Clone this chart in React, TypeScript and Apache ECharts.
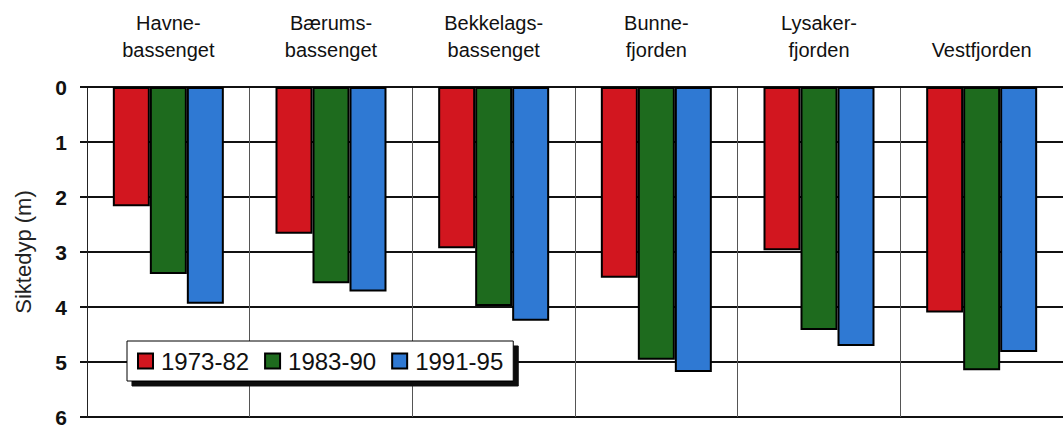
import React, { useEffect, useRef } from "react";
import * as echarts from "echarts";

const categories = [
  "Havne-\nbassenget",
  "Bærums-\nbassenget",
  "Bekkelags-\nbassenget",
  "Bunne-\nfjorden",
  "Lysaker-\nfjorden",
  "Vestfjorden",
];
const s1973_82 = [2.17, 2.67, 2.93, 3.47, 2.97, 4.1];
const s1983_90 = [3.4, 3.57, 3.98, 4.96, 4.42, 5.15];
const s1991_95 = [3.94, 3.72, 4.25, 5.18, 4.71, 4.82];
const seriesNames = ["1973-82", "1983-90", "1991-95"];
const colors = ["#d2161f", "#1e6b1e", "#2f79d3"];
const yTicks = [0, 1, 2, 3, 4, 5, 6];

export default function App() {
  const ref = useRef<HTMLDivElement>(null);
  useEffect(() => {
    document.body.style.margin = "0";
    const chart = echarts.init(ref.current!, undefined, { renderer: "svg" });
    const font = "Arial, 'Liberation Sans', sans-serif";
    const data = [s1973_82, s1983_90, s1991_95];
    chart.setOption({
      animation: false,
      backgroundColor: "#ffffff",
      grid: { left: 87, top: 87, width: 982, height: 330 },
      legend: {
        left: 127,
        top: 341,
        orient: "horizontal",
        backgroundColor: "#ffffff",
        borderColor: "#000",
        borderWidth: 1,
        padding: [8, 10, 8, 10],
        itemWidth: 15,
        itemHeight: 15,
        itemGap: 15,
        shadowColor: "#111",
        shadowBlur: 0,
        shadowOffsetX: 5,
        shadowOffsetY: 5,
        textStyle: { fontFamily: font, fontSize: 24, color: "#111", padding: [0, 0, 0, 3] },
        data: seriesNames.map((n) => ({ name: n, icon: "rect" })),
      },
      xAxis: {
        type: "category",
        position: "top",
        data: categories,
        axisLine: { show: true, lineStyle: { color: "#111", width: 2 } },
        axisTick: { show: false },
        splitLine: { show: true, lineStyle: { color: "#555", width: 1 } },
        axisLabel: {
          fontFamily: font,
          fontSize: 20,
          lineHeight: 27,
          color: "#111",
          margin: 24,
          interval: 0,
        },
      },
      yAxis: {
        type: "value",
        inverse: true,
        min: 0,
        max: 6,
        interval: 1,
        name: "Siktedyp (m)",
        nameLocation: "middle",
        nameGap: 53,
        nameTextStyle: { fontFamily: font, fontSize: 22, color: "#222" },
        axisLine: { show: true, lineStyle: { color: "#222", width: 1 } },
        axisTick: { show: true, length: 7, lineStyle: { color: "#111", width: 2 } },
        splitLine: { show: true, lineStyle: { color: "#111", width: 2 } },
        axisLabel: {
          fontFamily: font,
          fontSize: 21,
          fontWeight: "bold",
          color: "#111",
          margin: 20,
          formatter: (v: number) => (yTicks.includes(v) ? String(v) : ""),
        },
      },
      series: seriesNames.map((n, i) => ({
        name: n,
        type: "bar",
        data: data[i],
        barWidth: 37,
        barGap: "0%",
        itemStyle: { color: colors[i], borderColor: "#000", borderWidth: 2 },
      })),
    });
    return () => chart.dispose();
  }, []);
  return <div ref={ref} style={{ width: 1063, height: 428 }} />;
}
